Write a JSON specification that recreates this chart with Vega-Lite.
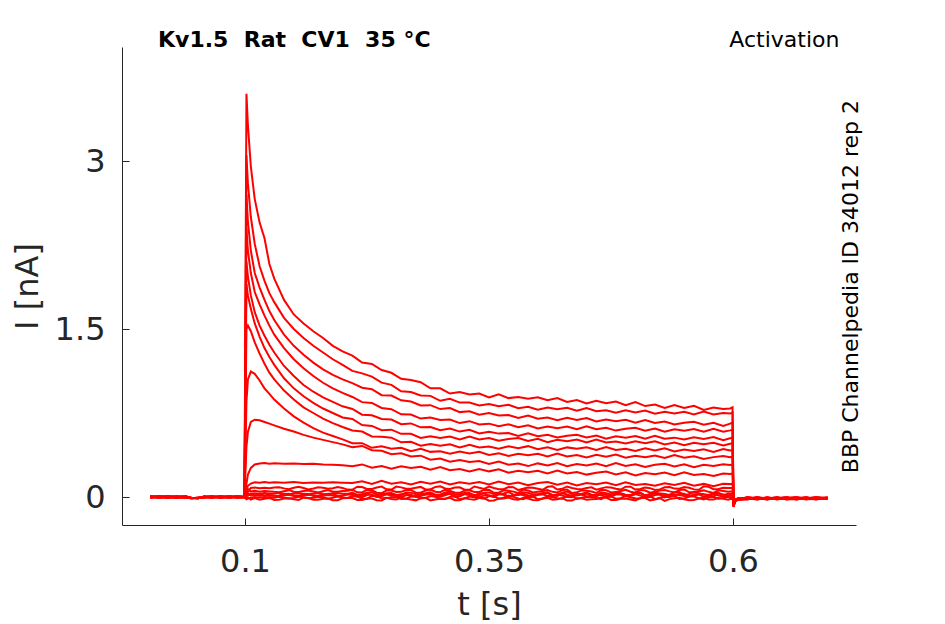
{
"$schema": "https://vega.github.io/schema/vega-lite/v6.json",
"width": 734, "height": 478,
"autosize": "none",
"padding": {"left": 122, "top": 47, "right": 89, "bottom": 99},
"background": "white",
"layer": [
{
"data": {"values": [
{"t":0.003,"A":0.004,"B":-0.003,"C":0.006,"D":-0.005,"E":0.002,"F":0.007,"G":-0.006,"H":0.003,"I":-0.002,"J":0.005,"K":-0.004,"L":0.001,"M":0.006,"N":-0.007,"O":0.003,"P":-0.001},
{"t":0.012,"A":-0.005,"B":0.006,"C":-0.002,"D":0.004,"E":-0.007,"F":0.001,"G":0.005,"H":-0.004,"I":0.007,"J":-0.003,"K":0.002,"L":-0.006,"M":0.003,"N":0.005,"O":-0.002,"P":0.004},
{"t":0.021,"A":0.006,"B":-0.001,"C":0.003,"D":-0.006,"E":0.005,"F":-0.004,"G":0.002,"H":0.007,"I":-0.005,"J":0.001,"K":0.006,"L":-0.003,"M":-0.005,"N":0.002,"O":0.004,"P":-0.006},
{"t":0.03,"A":-0.002,"B":0.005,"C":-0.006,"D":0.003,"E":-0.001,"F":0.006,"G":-0.004,"H":-0.002,"I":0.004,"J":-0.006,"K":0.003,"L":0.005,"M":0.001,"N":-0.004,"O":-0.005,"P":0.002},
{"t":0.039,"A":0.003,"B":-0.006,"C":0.004,"D":0.001,"E":0.006,"F":-0.002,"G":0.005,"H":-0.005,"I":0.002,"J":0.004,"K":-0.006,"L":0.002,"M":-0.003,"N":0.006,"O":0.001,"P":-0.004},
{"t":0.045,"A":-0.008,"B":-0.011,"C":-0.006,"D":-0.01,"E":-0.007,"F":-0.012,"G":-0.008,"H":-0.009,"I":-0.011,"J":-0.006,"K":-0.01,"L":-0.008,"M":-0.012,"N":-0.007,"O":-0.009,"P":-0.011},
{"t":0.052,"A":-0.01,"B":-0.007,"C":-0.012,"D":-0.008,"E":-0.011,"F":-0.006,"G":-0.009,"H":-0.012,"I":-0.007,"J":-0.01,"K":-0.008,"L":-0.011,"M":-0.006,"N":-0.012,"O":-0.008,"P":-0.009},
{"t":0.058,"A":0.002,"B":-0.004,"C":0.005,"D":-0.001,"E":0.003,"F":-0.005,"G":0.001,"H":0.004,"I":-0.003,"J":0.002,"K":-0.002,"L":0.005,"M":-0.004,"N":0.001,"O":0.003,"P":-0.002},
{"t":0.066,"A":-0.004,"B":0.003,"C":-0.006,"D":0.005,"E":-0.002,"F":0.004,"G":-0.005,"H":0.001,"I":0.006,"J":-0.003,"K":0.005,"L":-0.001,"M":0.002,"N":-0.006,"O":0.004,"P":0.001},
{"t":0.075,"A":0.005,"B":-0.002,"C":0.001,"D":-0.004,"E":0.006,"F":-0.006,"G":0.003,"H":-0.003,"I":-0.001,"J":0.006,"K":-0.005,"L":0.003,"M":-0.002,"N":0.004,"O":-0.006,"P":0.005},
{"t":0.084,"A":-0.003,"B":0.004,"C":-0.005,"D":0.006,"E":-0.004,"F":0.002,"G":-0.001,"H":0.005,"I":-0.006,"J":0.001,"K":0.004,"L":-0.004,"M":0.006,"N":-0.003,"O":0.002,"P":-0.005},
{"t":0.092,"A":0.006,"B":-0.005,"C":0.002,"D":-0.002,"E":0.001,"F":-0.003,"G":0.006,"H":-0.006,"I":0.003,"J":-0.004,"K":0.001,"L":0.006,"M":-0.005,"N":0.002,"O":-0.001,"P":0.004},
{"t":0.0995,"A":0.001,"B":-0.002,"C":0.003,"D":-0.001,"E":0.002,"F":-0.003,"G":0.001,"H":0.002,"I":-0.002,"J":0.003,"K":-0.001,"L":0.002,"M":-0.003,"N":0.001,"O":0.002,"P":-0.002,"Q":0.0,"R":-0.001},
{"t":0.1015,"A":3.6,"B":3.05,"C":2.7,"D":2.4,"E":2.1,"F":1.9,"G":1.5,"H":0.85,"I":0.45,"J":0.12,"K":0.06,"L":0.04,"M":0.03,"N":0.02,"O":0.01,"P":-0.01,"Q":0.01,"R":-0.02},
{"t":0.103,"A":3.32,"B":2.8,"C":2.46,"D":2.2,"E":1.97,"F":1.8,"G":1.53,"H":1.05,"I":0.58,"J":0.2,"K":0.1,"L":0.07,"M":0.045,"N":0.028,"O":0.012,"P":-0.006,"Q":0.015,"R":-0.014},
{"t":0.105,"L":0.072,"M":0.058,"N":0.024,"O":0.02,"P":-0.012,"Q":0.027,"R":-0.011},
{"t":0.106,"A":2.95,"B":2.5,"C":2.2,"D":2.0,"E":1.8,"F":1.68,"G":1.48,"H":1.12,"I":0.67,"J":0.26,"K":0.12,"L":0.08,"M":0.05,"N":0.03,"O":0.015,"P":-0.004,"Q":0.022,"R":-0.022},
{"t":0.11,"A":2.66,"B":2.26,"C":2.0,"D":1.83,"E":1.65,"F":1.55,"G":1.38,"H":1.1,"I":0.69,"J":0.29,"K":0.132,"L":0.085,"M":0.055,"N":0.033,"O":0.01,"P":-0.008,"Q":0.018,"R":-0.01},
{"t":0.115,"A":2.45,"B":2.06,"C":1.87,"D":1.72,"E":1.53,"F":1.43,"G":1.28,"H":1.04,"I":0.685,"J":0.3,"K":0.128,"L":0.078,"M":0.048,"N":0.027,"O":0.016,"P":-0.003,"Q":0.026,"R":-0.025},
{"t":0.12,"A":2.31,"B":1.93,"C":1.76,"D":1.62,"E":1.44,"F":1.33,"G":1.19,"H":0.97,"I":0.67,"J":0.303,"K":0.134,"L":0.083,"M":0.053,"N":0.035,"O":0.009,"P":-0.007,"Q":0.014,"R":-0.016},
{"t":0.125,"A":2.08,"B":1.82,"C":1.66,"D":1.53,"E":1.36,"F":1.25,"G":1.11,"H":0.92,"I":0.655,"J":0.298,"K":0.127,"L":0.079,"M":0.05,"N":0.029,"O":0.014,"P":-0.002,"Q":0.023,"R":-0.008},
{"t":0.13,"A":1.95,"B":1.74,"C":1.58,"D":1.45,"E":1.29,"F":1.18,"G":1.05,"H":0.87,"I":0.64,"J":0.302,"K":0.131,"L":0.084,"M":0.046,"N":0.032,"O":0.011,"P":-0.006,"Q":0.011,"R":-0.027},
{"t":0.135,"L":0.086,"M":0.043,"N":0.037,"O":0.005,"P":0.002,"Q":0.013,"R":-0.025},
{"t":0.14,"A":1.76,"B":1.6,"C":1.45,"D":1.33,"E":1.17,"F":1.06,"G":0.95,"H":0.79,"I":0.61,"J":0.297,"K":0.128,"L":0.077,"M":0.052,"N":0.026,"O":0.015,"P":-0.004,"Q":0.027,"R":-0.013},
{"t":0.145,"L":0.07,"M":0.061,"N":0.022,"O":0.019,"P":-0.014,"Q":0.029,"R":-0.012},
{"t":0.15,"A":1.63,"B":1.5,"C":1.35,"D":1.23,"E":1.08,"F":0.97,"G":0.87,"H":0.72,"I":0.585,"J":0.3,"K":0.133,"L":0.082,"M":0.047,"N":0.034,"O":0.008,"P":-0.008,"Q":0.016,"R":-0.021},
{"t":0.155,"L":0.091,"M":0.045,"N":0.035,"O":0.003,"P":0.004,"Q":0.011,"R":-0.027},
{"t":0.16,"A":1.55,"B":1.42,"C":1.27,"D":1.15,"E":1.0,"F":0.9,"G":0.8,"H":0.665,"I":0.555,"J":0.294,"K":0.126,"L":0.08,"M":0.054,"N":0.028,"O":0.013,"P":-0.003,"Q":0.024,"R":-0.006},
{"t":0.165,"L":0.068,"M":0.057,"N":0.026,"O":0.021,"P":-0.011,"Q":0.026,"R":-0.009},
{"t":0.17,"A":1.48,"B":1.35,"C":1.2,"D":1.08,"E":0.94,"F":0.84,"G":0.75,"H":0.615,"I":0.53,"J":0.296,"K":0.13,"L":0.076,"M":0.049,"N":0.031,"O":0.016,"P":-0.007,"Q":0.009,"R":-0.024},
{"t":0.175,"L":0.087,"M":0.04,"N":0.038,"O":0.006,"P":0.001,"Q":0.014,"R":-0.024},
{"t":0.18,"A":1.42,"B":1.29,"C":1.14,"D":1.02,"E":0.89,"F":0.79,"G":0.7,"H":0.575,"I":0.51,"J":0.29,"K":0.127,"L":0.083,"M":0.051,"N":0.027,"O":0.01,"P":-0.002,"Q":0.021,"R":-0.015},
{"t":0.185,"L":0.073,"M":0.063,"N":0.021,"O":0.018,"P":-0.016,"Q":0.03,"R":-0.014},
{"t":0.19,"A":1.35,"B":1.23,"C":1.09,"D":0.97,"E":0.85,"F":0.75,"G":0.66,"H":0.545,"I":0.49,"J":0.287,"K":0.132,"L":0.079,"M":0.047,"N":0.033,"O":0.014,"P":-0.006,"Q":0.03,"R":-0.029},
{"t":0.195,"L":0.089,"M":0.046,"N":0.036,"O":0.002,"P":0.006,"Q":0.009,"R":-0.028},
{"t":0.2,"A":1.3,"B":1.18,"C":1.05,"D":0.93,"E":0.81,"F":0.71,"G":0.625,"H":0.515,"I":0.47,"J":0.283,"K":0.128,"L":0.081,"M":0.053,"N":0.029,"O":0.012,"P":-0.004,"Q":0.013,"R":-0.011},
{"t":0.205,"L":0.066,"M":0.055,"N":0.028,"O":0.024,"P":-0.009,"Q":0.025,"R":-0.01},
{"t":0.21,"A":1.262,"B":1.126,"C":1.017,"D":0.893,"E":0.786,"F":0.697,"G":0.594,"H":0.481,"I":0.444,"J":0.275,"K":0.125,"L":0.064,"M":0.065,"N":0.04,"O":0.017,"P":0.008,"Q":0.028,"R":-0.009},
{"t":0.215,"L":0.092,"M":0.042,"N":0.019,"O":0.007,"P":0.003,"Q":0.012,"R":-0.026},
{"t":0.22,"A":1.2,"B":1.104,"C":0.976,"D":0.847,"E":0.735,"F":0.642,"G":0.584,"H":0.481,"I":0.456,"J":0.291,"K":0.14,"L":0.089,"M":0.041,"N":0.025,"O":-0.002,"P":-0.016,"Q":0.008,"R":-0.026},
{"t":0.225,"L":0.071,"M":0.064,"N":0.039,"O":0.017,"P":-0.017,"Q":0.031,"R":-0.013},
{"t":0.23,"A":1.188,"B":1.075,"C":0.963,"D":0.84,"E":0.729,"F":0.635,"G":0.541,"H":0.439,"I":0.418,"J":0.262,"K":0.117,"L":0.072,"M":0.061,"N":0.044,"O":0.023,"P":0.011,"Q":0.019,"R":-0.014},
{"t":0.235,"L":0.085,"M":0.038,"N":0.023,"O":0.001,"P":0.005,"Q":0.008,"R":-0.029},
{"t":0.24,"A":1.134,"B":1.021,"C":0.909,"D":0.795,"E":0.697,"F":0.596,"G":0.539,"H":0.452,"I":0.413,"J":0.277,"K":0.144,"L":0.093,"M":0.034,"N":0.018,"O":0.006,"P":-0.012,"Q":0.033,"R":-0.031},
{"t":0.245,"L":0.069,"M":0.059,"N":0.034,"O":0.023,"P":-0.01,"Q":0.027,"R":-0.008},
{"t":0.25,"A":1.109,"B":1.001,"C":0.906,"D":0.784,"E":0.692,"F":0.601,"G":0.53,"H":0.431,"I":0.382,"J":0.253,"K":0.118,"L":0.066,"M":0.057,"N":0.036,"O":0.027,"P":-0.002,"Q":0.012,"R":-0.018},
{"t":0.255,"L":0.093,"M":0.044,"N":0.018,"O":0.008,"P":-0.001,"Q":0.015,"R":-0.023},
{"t":0.26,"A":1.056,"B":0.944,"C":0.863,"D":0.738,"E":0.65,"F":0.564,"G":0.488,"H":0.44,"I":0.39,"J":0.274,"K":0.131,"L":0.086,"M":0.046,"N":0.015,"O":0.0,"P":-0.018,"Q":0.025,"R":-0.005},
{"t":0.265,"L":0.074,"M":0.062,"N":0.041,"O":0.015,"P":-0.015,"Q":0.032,"R":-0.015},
{"t":0.27,"A":1.044,"B":0.937,"C":0.853,"D":0.736,"E":0.657,"F":0.565,"G":0.493,"H":0.409,"I":0.361,"J":0.259,"K":0.111,"L":0.074,"M":0.063,"N":0.039,"O":0.02,"P":0.005,"Q":0.005,"R":-0.023},
{"t":0.275,"L":0.082,"M":0.039,"N":0.025,"O":0.0,"P":0.007,"Q":0.01,"R":-0.03},
{"t":0.28,"A":1.025,"B":0.906,"C":0.817,"D":0.7,"E":0.622,"F":0.528,"G":0.458,"H":0.431,"I":0.369,"J":0.27,"K":0.136,"L":0.09,"M":0.039,"N":0.027,"O":0.008,"P":-0.01,"Q":0.022,"R":-0.012},
{"t":0.285,"L":0.067,"M":0.058,"N":0.033,"O":0.022,"P":-0.008,"Q":0.024,"R":-0.007},
{"t":0.29,"A":0.971,"B":0.903,"C":0.82,"D":0.709,"E":0.625,"F":0.543,"G":0.474,"H":0.403,"I":0.333,"J":0.244,"K":0.119,"L":0.068,"M":0.066,"N":0.042,"O":0.024,"P":0.009,"Q":0.031,"R":-0.03},
{"t":0.295,"L":0.09,"M":0.047,"N":0.02,"O":0.009,"P":0.002,"Q":0.016,"R":-0.022},
{"t":0.3,"A":0.971,"B":0.859,"C":0.785,"D":0.687,"E":0.596,"F":0.526,"G":0.457,"H":0.408,"I":0.343,"J":0.267,"K":0.139,"L":0.096,"M":0.043,"N":0.02,"O":0.002,"P":-0.017,"Q":0.014,"R":-0.016},
{"t":0.305,"L":0.076,"M":0.065,"N":0.04,"O":0.016,"P":-0.018,"Q":0.03,"R":-0.016},
{"t":0.31,"A":0.924,"B":0.876,"C":0.794,"D":0.692,"E":0.611,"F":0.539,"G":0.47,"H":0.387,"I":0.315,"J":0.239,"K":0.112,"L":0.072,"M":0.053,"N":0.047,"O":0.03,"P":0.001,"Q":0.026,"R":-0.007},
{"t":0.315,"L":0.084,"M":0.041,"N":0.024,"O":0.003,"P":0.006,"Q":0.007,"R":-0.028},
{"t":0.32,"A":0.937,"B":0.843,"C":0.758,"D":0.66,"E":0.584,"F":0.514,"G":0.443,"H":0.407,"I":0.331,"J":0.249,"K":0.131,"L":0.087,"M":0.037,"N":0.022,"O":0.006,"P":-0.02,"Q":0.007,"R":-0.028},
{"t":0.325,"L":0.065,"M":0.056,"N":0.036,"O":0.025,"P":-0.012,"Q":0.028,"R":-0.011},
{"t":0.33,"A":0.916,"B":0.843,"C":0.766,"D":0.677,"E":0.6,"F":0.54,"G":0.467,"H":0.389,"I":0.313,"J":0.227,"K":0.119,"L":0.064,"M":0.06,"N":0.035,"O":0.021,"P":0.004,"Q":0.018,"R":-0.019},
{"t":0.335,"L":0.094,"M":0.045,"N":0.017,"O":0.006,"P":-0.002,"Q":0.013,"R":-0.025},
{"t":0.34,"A":0.923,"B":0.817,"C":0.735,"D":0.647,"E":0.568,"F":0.514,"G":0.442,"H":0.404,"I":0.322,"J":0.249,"K":0.134,"L":0.082,"M":0.045,"N":0.016,"O":-0.002,"P":-0.008,"Q":0.034,"R":-0.01},
{"t":0.345,"L":0.072,"M":0.063,"N":0.038,"O":0.014,"P":-0.016,"Q":0.033,"R":-0.009},
{"t":0.35,"A":0.889,"B":0.83,"C":0.749,"D":0.655,"E":0.583,"F":0.527,"G":0.45,"H":0.375,"I":0.295,"J":0.229,"K":0.112,"L":0.093,"M":0.064,"N":0.041,"O":0.016,"P":0.007,"Q":0.011,"R":-0.033},
{"t":0.355,"L":0.08,"M":0.037,"N":0.026,"O":-0.001,"P":0.008,"Q":0.011,"R":-0.031},
{"t":0.36,"A":0.916,"B":0.81,"C":0.727,"D":0.631,"E":0.566,"F":0.502,"G":0.432,"H":0.39,"I":0.317,"J":0.247,"K":0.139,"L":0.069,"M":0.038,"N":0.024,"O":0.027,"P":-0.015,"Q":0.024,"R":-0.015},
{"t":0.365,"L":0.07,"M":0.06,"N":0.031,"O":0.02,"P":-0.007,"Q":0.026,"R":-0.013},
{"t":0.37,"A":0.883,"B":0.824,"C":0.732,"D":0.649,"E":0.572,"F":0.518,"G":0.453,"H":0.366,"I":0.288,"J":0.217,"K":0.115,"L":0.089,"M":0.056,"N":0.045,"O":0.003,"P":0.012,"Q":0.004,"R":-0.004},
{"t":0.375,"L":0.088,"M":0.048,"N":0.021,"O":0.01,"P":0.001,"Q":0.017,"R":-0.021},
{"t":0.38,"A":0.893,"B":0.793,"C":0.705,"D":0.624,"E":0.545,"F":0.527,"G":0.436,"H":0.387,"I":0.298,"J":0.235,"K":0.129,"L":0.062,"M":0.035,"N":0.018,"O":0.023,"P":-0.013,"Q":0.029,"R":-0.025},
{"t":0.385,"L":0.075,"M":0.066,"N":0.042,"O":0.018,"P":-0.019,"Q":0.029,"R":-0.006},
{"t":0.39,"A":0.877,"B":0.806,"C":0.727,"D":0.64,"E":0.568,"F":0.501,"G":0.454,"H":0.372,"I":0.276,"J":0.221,"K":0.106,"L":0.085,"M":0.059,"N":0.038,"O":-0.004,"P":0.0,"Q":0.016,"R":-0.013},
{"t":0.395,"L":0.083,"M":0.04,"N":0.022,"O":0.004,"P":0.004,"Q":0.006,"R":-0.027},
{"t":0.4,"A":0.89,"B":0.78,"C":0.699,"D":0.611,"E":0.543,"F":0.519,"G":0.427,"H":0.386,"I":0.3,"J":0.235,"K":0.124,"L":0.074,"M":0.047,"N":0.026,"O":0.019,"P":-0.019,"Q":0.021,"R":-0.029},
{"t":0.405,"L":0.064,"M":0.054,"N":0.035,"O":0.024,"P":-0.013,"Q":0.027,"R":-0.014},
{"t":0.41,"A":0.865,"B":0.799,"C":0.709,"D":0.629,"E":0.556,"F":0.49,"G":0.443,"H":0.363,"I":0.282,"J":0.211,"K":0.134,"L":0.091,"M":0.062,"N":0.042,"O":0.008,"P":0.006,"Q":0.035,"R":-0.008},
{"t":0.415,"L":0.095,"M":0.046,"N":0.016,"O":0.007,"P":-0.003,"Q":0.014,"R":-0.024},
{"t":0.42,"A":0.884,"B":0.784,"C":0.686,"D":0.615,"E":0.531,"F":0.511,"G":0.421,"H":0.388,"I":0.303,"J":0.237,"K":0.11,"L":0.067,"M":0.04,"N":0.02,"O":0.025,"P":-0.011,"Q":0.009,"R":-0.021},
{"t":0.425,"L":0.073,"M":0.061,"N":0.039,"O":0.013,"P":-0.015,"Q":0.034,"R":-0.01},
{"t":0.43,"A":0.848,"B":0.796,"C":0.708,"D":0.629,"E":0.547,"F":0.498,"G":0.443,"H":0.362,"I":0.275,"J":0.211,"K":0.129,"L":0.094,"M":0.067,"N":0.048,"O":0.001,"P":0.01,"Q":0.023,"R":-0.032},
{"t":0.435,"L":0.081,"M":0.036,"N":0.027,"O":-0.002,"P":0.009,"Q":0.01,"R":-0.032},
{"t":0.44,"A":0.866,"B":0.77,"C":0.688,"D":0.605,"E":0.556,"F":0.513,"G":0.43,"H":0.374,"I":0.295,"J":0.224,"K":0.102,"L":0.071,"M":0.042,"N":0.024,"O":0.028,"P":-0.017,"Q":0.013,"R":-0.011},
{"t":0.445,"L":0.069,"M":0.059,"N":0.03,"O":0.021,"P":-0.006,"Q":0.023,"R":-0.012},
{"t":0.45,"A":0.835,"B":0.794,"C":0.705,"D":0.631,"E":0.531,"F":0.487,"G":0.444,"H":0.354,"I":0.282,"J":0.2,"K":0.124,"L":0.081,"M":0.055,"N":0.039,"O":0.005,"P":0.003,"Q":0.03,"R":-0.024},
{"t":0.455,"L":0.087,"M":0.049,"N":0.02,"O":0.011,"P":0.0,"Q":0.018,"R":-0.02},
{"t":0.46,"A":0.859,"B":0.766,"C":0.675,"D":0.605,"E":0.549,"F":0.512,"G":0.42,"H":0.377,"I":0.298,"J":0.217,"K":0.113,"L":0.065,"M":0.036,"N":0.016,"O":0.015,"P":-0.009,"Q":0.006,"R":-0.017},
{"t":0.465,"L":0.077,"M":0.064,"N":0.043,"O":0.019,"P":-0.02,"Q":0.028,"R":-0.005},
{"t":0.47,"A":0.837,"B":0.775,"C":0.692,"D":0.618,"E":0.521,"F":0.487,"G":0.446,"H":0.359,"I":0.275,"J":0.227,"K":0.129,"L":0.088,"M":0.061,"N":0.034,"O":-0.001,"P":0.007,"Q":0.02,"R":-0.006},
{"t":0.475,"L":0.084,"M":0.041,"N":0.023,"O":0.005,"P":0.005,"Q":0.005,"R":-0.026},
{"t":0.48,"A":0.852,"B":0.753,"C":0.676,"D":0.593,"E":0.542,"F":0.495,"G":0.419,"H":0.379,"I":0.303,"J":0.202,"K":0.105,"L":0.073,"M":0.044,"N":0.045,"O":0.022,"P":-0.015,"Q":0.032,"R":-0.027},
{"t":0.485,"L":0.066,"M":0.053,"N":0.034,"O":0.023,"P":-0.011,"Q":0.026,"R":-0.015},
{"t":0.49,"A":0.82,"B":0.775,"C":0.689,"D":0.609,"E":0.53,"F":0.477,"G":0.431,"H":0.35,"I":0.278,"J":0.221,"K":0.131,"L":0.092,"M":0.065,"N":0.021,"O":0.007,"P":0.013,"Q":0.01,"R":-0.014},
{"t":0.495,"L":0.092,"M":0.047,"N":0.017,"O":0.008,"P":-0.004,"Q":0.015,"R":-0.023},
{"t":0.5,"A":0.847,"B":0.754,"C":0.664,"D":0.618,"E":0.545,"F":0.498,"G":0.41,"H":0.369,"I":0.293,"J":0.193,"K":0.108,"L":0.066,"M":0.038,"N":0.041,"O":0.026,"P":-0.011,"Q":0.027,"R":-0.03},
{"t":0.505,"L":0.071,"M":0.062,"N":0.038,"O":0.012,"P":-0.014,"Q":0.033,"R":-0.009},
{"t":0.51,"A":0.812,"B":0.772,"C":0.688,"D":0.592,"E":0.52,"F":0.481,"G":0.434,"H":0.356,"I":0.269,"J":0.215,"K":0.117,"L":0.084,"M":0.058,"N":0.014,"O":0.0,"P":0.004,"Q":0.015,"R":-0.009},
{"t":0.515,"L":0.079,"M":0.038,"N":0.028,"O":-0.001,"P":0.008,"Q":0.012,"R":-0.03},
{"t":0.52,"A":0.825,"B":0.743,"C":0.661,"D":0.611,"E":0.546,"F":0.498,"G":0.415,"H":0.371,"I":0.287,"J":0.203,"K":0.101,"L":0.063,"M":0.046,"N":0.037,"O":0.018,"P":-0.019,"Q":0.036,"R":-0.022},
{"t":0.525,"L":0.068,"M":0.057,"N":0.032,"O":0.022,"P":-0.007,"Q":0.024,"R":-0.011},
{"t":0.53,"A":0.796,"B":0.76,"C":0.673,"D":0.582,"E":0.521,"F":0.47,"G":0.435,"H":0.348,"I":0.297,"J":0.219,"K":0.123,"L":0.087,"M":0.062,"N":0.026,"O":-0.003,"P":-0.001,"Q":0.008,"R":-0.035},
{"t":0.535,"L":0.089,"M":0.05,"N":0.019,"O":0.01,"P":0.001,"Q":0.019,"R":-0.019},
{"t":0.54,"A":0.821,"B":0.746,"C":0.647,"D":0.604,"E":0.53,"F":0.486,"G":0.406,"H":0.375,"I":0.273,"J":0.194,"K":0.108,"L":0.075,"M":0.04,"N":0.043,"O":0.021,"P":0.01,"Q":0.019,"R":-0.012},
{"t":0.545,"L":0.074,"M":0.063,"N":0.044,"O":0.017,"P":-0.018,"Q":0.027,"R":-0.006},
{"t":0.55,"A":0.794,"B":0.76,"C":0.662,"D":0.592,"E":0.513,"F":0.463,"G":0.425,"H":0.35,"I":0.292,"J":0.22,"K":0.126,"L":0.09,"M":0.068,"N":0.019,"O":0.009,"P":-0.014,"Q":0.028,"R":-0.02},
{"t":0.555,"L":0.082,"M":0.042,"N":0.024,"O":0.004,"P":0.004,"Q":0.006,"R":-0.028},
{"t":0.56,"A":0.815,"B":0.736,"C":0.671,"D":0.607,"E":0.534,"F":0.485,"G":0.411,"H":0.364,"I":0.265,"J":0.196,"K":0.1,"L":0.068,"M":0.044,"N":0.046,"O":0.024,"P":0.006,"Q":0.012,"R":-0.026},
{"t":0.565,"L":0.065,"M":0.052,"N":0.033,"O":0.024,"P":-0.012,"Q":0.025,"R":-0.014},
{"t":0.57,"A":0.778,"B":0.762,"C":0.645,"D":0.582,"E":0.518,"F":0.471,"G":0.426,"H":0.34,"I":0.287,"J":0.205,"K":0.117,"L":0.095,"M":0.059,"N":0.023,"O":0.002,"P":-0.021,"Q":0.025,"R":-0.007},
{"t":0.575,"L":0.091,"M":0.046,"N":0.018,"O":0.009,"P":-0.003,"Q":0.016,"R":-0.022},
{"t":0.58,"A":0.798,"B":0.736,"C":0.663,"D":0.608,"E":0.536,"F":0.484,"G":0.402,"H":0.356,"I":0.276,"J":0.188,"K":0.096,"L":0.07,"M":0.036,"N":0.033,"O":0.029,"P":0.002,"Q":0.005,"R":-0.023},
{"t":0.585,"L":0.072,"M":0.06,"N":0.037,"O":0.013,"P":-0.016,"Q":0.031,"R":-0.01},
{"t":0.59,"A":0.786,"B":0.749,"C":0.634,"D":0.583,"E":0.508,"F":0.46,"G":0.428,"H":0.365,"I":0.293,"J":0.21,"K":0.119,"L":0.083,"M":0.054,"N":0.017,"O":0.004,"P":-0.009,"Q":0.022,"R":-0.016},
{"t":0.595,"L":0.08,"M":0.048,"N":0.029,"O":0.006,"P":0.002,"Q":0.012,"R":-0.025},
{"t":0.597,"A":0.79,"B":0.745,"C":0.655,"D":0.595,"E":0.525,"F":0.475,"G":0.415,"H":0.355,"I":0.285,"J":0.205,"K":0.115,"L":0.08,"M":0.05,"N":0.03,"O":0.012,"P":-0.005,"Q":0.02,"R":-0.018},
{"t":0.5995,"A":0.8,"B":0.755,"C":0.665,"D":0.6,"E":0.53,"F":0.48,"G":0.42,"H":0.36,"I":0.29,"J":0.21,"K":0.12,"L":0.08,"M":0.05,"N":0.03,"O":0.01,"P":-0.005,"Q":0.02,"R":-0.018},
{"t":0.6005,"A":-0.09,"B":-0.085,"C":-0.08,"D":-0.088,"E":-0.075,"F":-0.082,"G":-0.07,"H":-0.078,"I":-0.065,"J":-0.06,"K":-0.05,"L":-0.045,"M":-0.04,"N":-0.035,"O":-0.03,"P":-0.03,"Q":-0.032,"R":-0.036},
{"t":0.602,"A":-0.045,"B":-0.04,"C":-0.042,"D":-0.038,"E":-0.036,"F":-0.04,"G":-0.034,"H":-0.032,"I":-0.03,"J":-0.028,"K":-0.025,"L":-0.024,"M":-0.022,"N":-0.02,"O":-0.02,"P":-0.018,"Q":-0.019,"R":-0.021},
{"t":0.605,"A":-0.02,"B":-0.018,"C":-0.024,"D":-0.015,"E":-0.022,"F":-0.012,"G":-0.026,"H":-0.017,"I":-0.021,"J":-0.014,"K":-0.019,"L":-0.023,"M":-0.016,"N":-0.025,"O":-0.013,"P":-0.02},
{"t":0.615,"A":-0.004,"B":-0.016,"C":-0.009,"D":-0.021,"E":-0.002,"F":-0.013,"G":-0.018,"H":-0.006,"I":-0.011,"J":-0.02,"K":-0.003,"L":-0.015,"M":-0.008,"N":-0.019,"O":-0.012,"P":-0.005},
{"t":0.625,"A":-0.017,"B":-0.005,"C":-0.02,"D":-0.008,"E":-0.014,"F":-0.022,"G":-0.003,"H":-0.012,"I":-0.019,"J":-0.007,"K":-0.016,"L":-0.004,"M":-0.021,"N":-0.01,"O":-0.002,"P":-0.015},
{"t":0.635,"A":-0.008,"B":-0.019,"C":-0.003,"D":-0.015,"E":-0.021,"F":-0.006,"G":-0.013,"H":-0.02,"I":-0.004,"J":-0.017,"K":-0.01,"L":-0.022,"M":-0.005,"N":-0.014,"O":-0.018,"P":-0.009},
{"t":0.645,"A":-0.015,"B":-0.007,"C":-0.018,"D":-0.002,"E":-0.011,"F":-0.019,"G":-0.008,"H":-0.004,"I":-0.016,"J":-0.012,"K":-0.021,"L":-0.006,"M":-0.017,"N":-0.003,"O":-0.01,"P":-0.02},
{"t":0.655,"A":-0.003,"B":-0.014,"C":-0.01,"D":-0.02,"E":-0.006,"F":-0.009,"G":-0.021,"H":-0.015,"I":-0.007,"J":-0.002,"K":-0.013,"L":-0.018,"M":-0.01,"N":-0.022,"O":-0.005,"P":-0.012},
{"t":0.665,"A":-0.019,"B":-0.009,"C":-0.016,"D":-0.005,"E":-0.018,"F":-0.003,"G":-0.011,"H":-0.022,"I":-0.014,"J":-0.02,"K":-0.006,"L":-0.01,"M":-0.002,"N":-0.016,"O":-0.021,"P":-0.007},
{"t":0.675,"A":-0.006,"B":-0.021,"C":-0.004,"D":-0.013,"E":-0.009,"F":-0.017,"G":-0.005,"H":-0.01,"I":-0.02,"J":-0.008,"K":-0.018,"L":-0.003,"M":-0.015,"N":-0.007,"O":-0.011,"P":-0.019},
{"t":0.685,"A":-0.014,"B":-0.003,"C":-0.019,"D":-0.01,"E":-0.022,"F":-0.007,"G":-0.016,"H":-0.002,"I":-0.012,"J":-0.015,"K":-0.005,"L":-0.02,"M":-0.009,"N":-0.013,"O":-0.004,"P":-0.017},
{"t":0.697,"A":-0.009,"B":-0.012,"C":-0.006,"D":-0.018,"E":-0.004,"F":-0.015,"G":-0.01,"H":-0.013,"I":-0.003,"J":-0.011,"K":-0.016,"L":-0.008,"M":-0.019,"N":-0.006,"O":-0.014,"P":-0.01}
]},
"transform": [
{"fold": ["A","B","C","D","E","F","G","H","I","J","K","L","M","N","O","P","Q","R"], "as": ["trace","current"]},
{"filter": {"field": "current", "valid": true}}
],
"mark": {"type": "line", "color": "#ff0000", "strokeWidth": 2, "clip": true},
"encoding": {
"x": {"field": "t", "type": "quantitative", "scale": {"domain": [-0.026, 0.726], "nice": false, "zero": false},
"axis": {"title": "t [s]", "values": [0.1, 0.35, 0.6], "format": ".2~f", "labelPadding": 28, "titlePadding": 12}},
"y": {"field": "current", "type": "quantitative", "scale": {"domain": [-0.25, 4.018], "nice": false, "zero": false},
"axis": {"title": "I [nA]", "values": [0, 1.5, 3], "format": ".1~f", "labelPadding": 24, "titlePadding": 10}},
"detail": {"field": "trace"}
}
},
{
"data": {"values": [{"label": "Kv1.5\u00a0 Rat\u00a0 CV1\u00a0 35 °C"}]},
"mark": {"type": "text", "align": "left", "baseline": "alphabetic", "font": "DejaVu Sans", "fontSize": 22, "fontWeight": "bold", "color": "#000000"},
"encoding": {"x": {"datum": 0.0109, "type": "quantitative"}, "y": {"datum": 4.018, "type": "quantitative"}, "text": {"field": "label"}}
},
{
"data": {"values": [{"label": "Activation"}]},
"mark": {"type": "text", "align": "right", "baseline": "alphabetic", "font": "DejaVu Sans", "fontSize": 22, "color": "#000000"},
"encoding": {"x": {"datum": 0.709, "type": "quantitative"}, "y": {"datum": 4.018, "type": "quantitative"}, "text": {"field": "label"}}
},
{
"data": {"values": [{"label": "BBP Channelpedia ID 34012 rep 2"}]},
"mark": {"type": "text", "angle": 270, "align": "center", "baseline": "alphabetic", "font": "DejaVu Sans", "fontSize": 22, "color": "#000000"},
"encoding": {"x": {"datum": 0.728, "type": "quantitative"}, "y": {"datum": 1.879, "type": "quantitative"}, "text": {"field": "label"}}
}
],
"config": {
"view": {"stroke": null},
"axis": {"grid": false, "domainColor": "#262626", "domainWidth": 1, "tickColor": "#262626", "tickWidth": 1, "tickSize": -7, "labelColor": "#262626", "titleColor": "#262626", "labelFont": "DejaVu Sans", "titleFont": "DejaVu Sans", "labelFontSize": 32, "titleFontSize": 32, "titleFontWeight": "normal"}
}
}
